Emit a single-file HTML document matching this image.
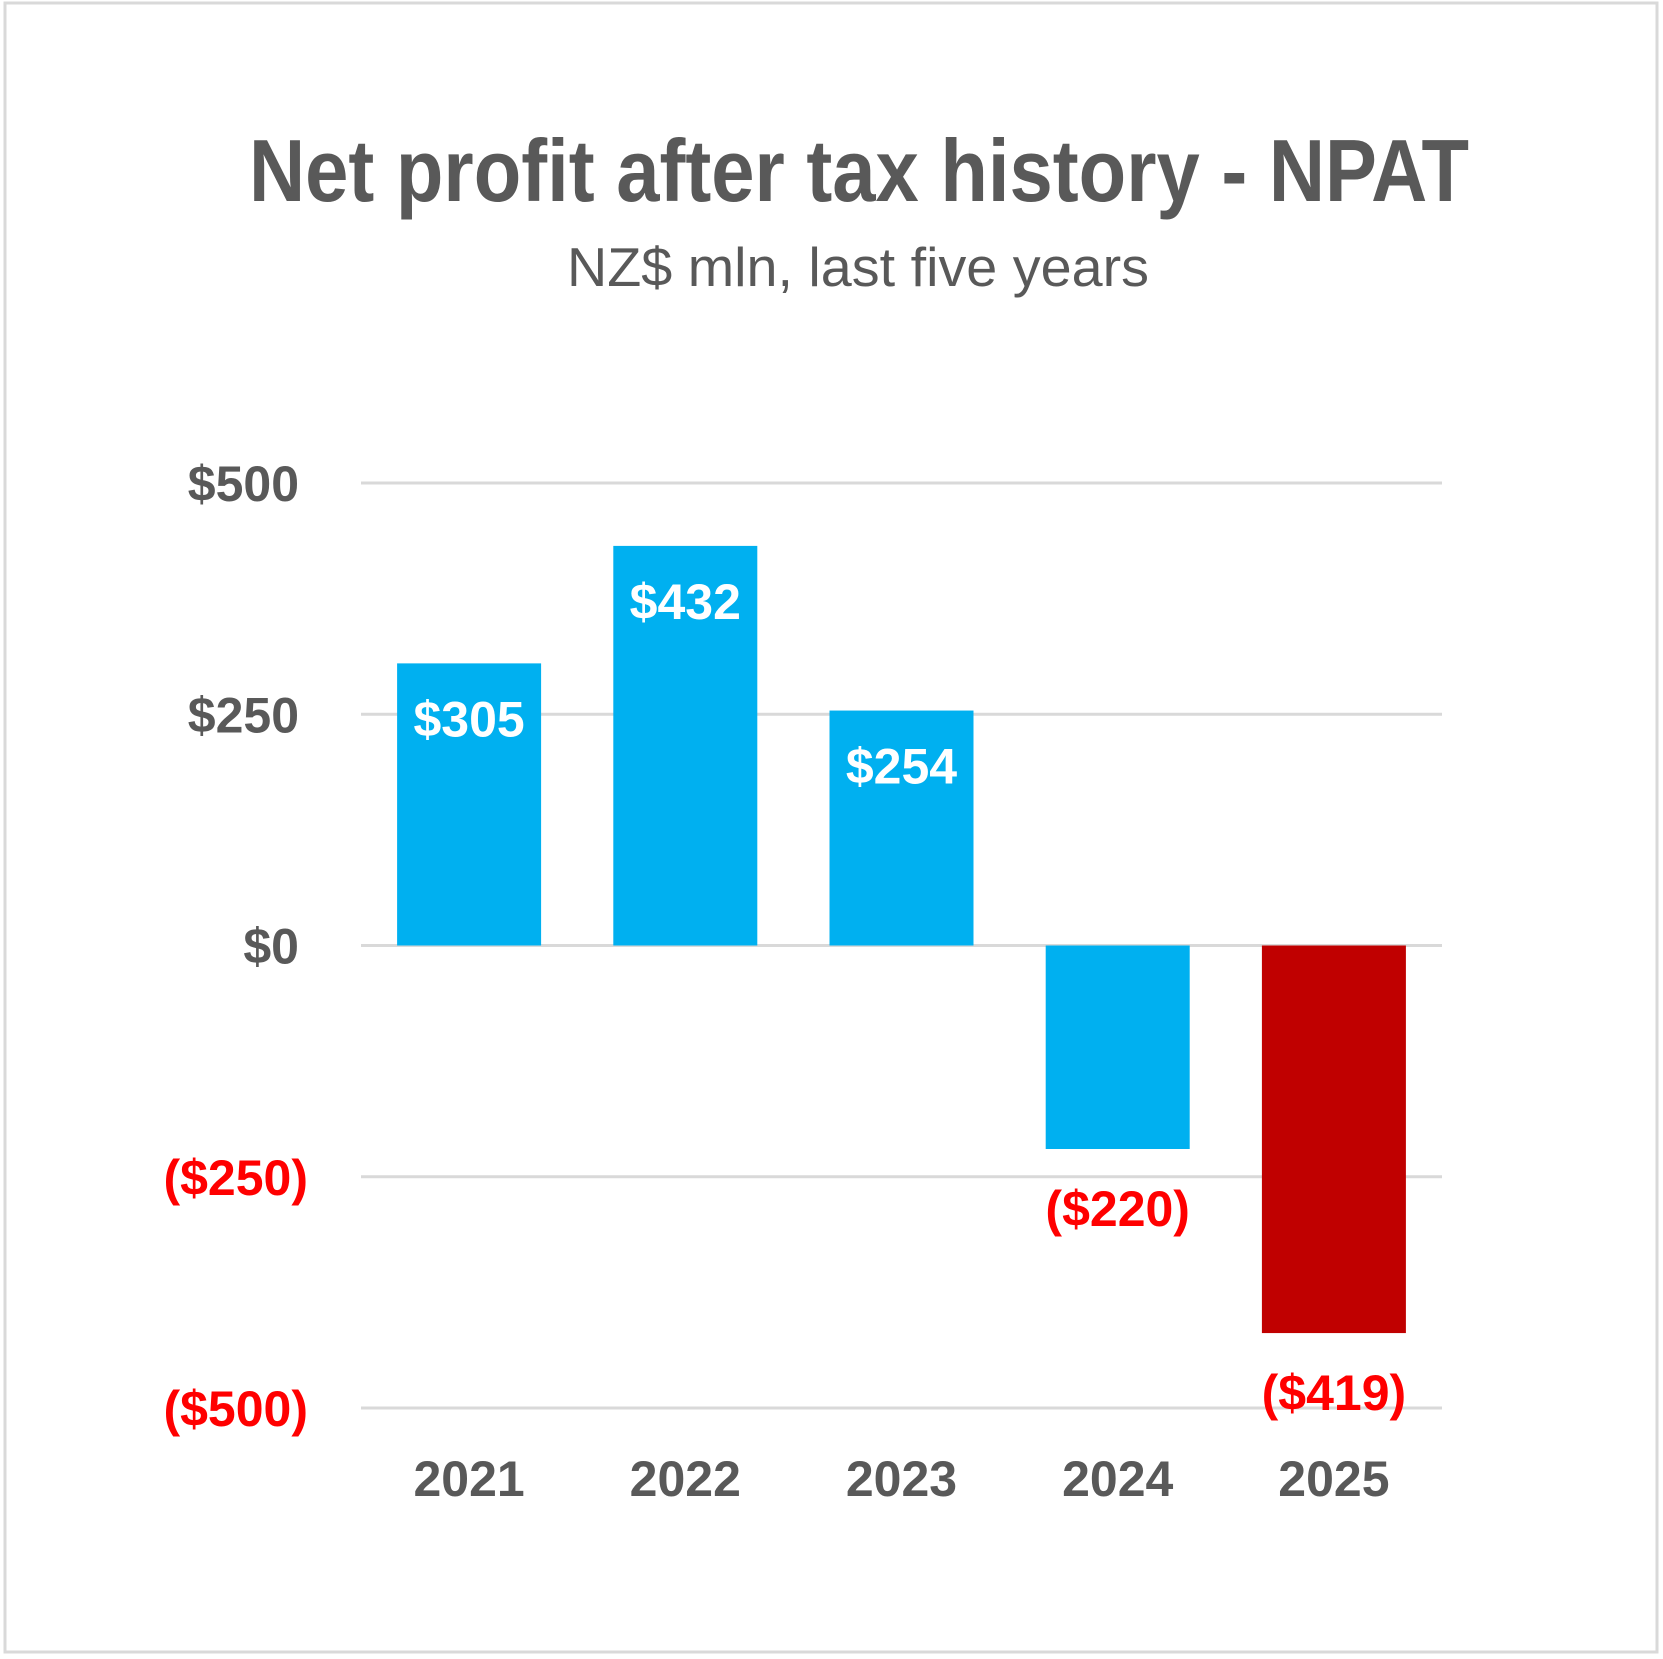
<!DOCTYPE html>
<html><head><meta charset="utf-8"><style>
html,body{margin:0;padding:0;background:#fff}
svg{display:block;font-family:"Liberation Sans",Arial,sans-serif}
</style></head><body>
<svg id="chart" width="1663" height="1659" viewBox="0 0 1663 1659">
<rect x="5" y="3" width="1652" height="1649" fill="#fff" stroke="#d9d9d9" stroke-width="3"/>
<text x="859" y="201" text-anchor="middle" font-size="88" font-weight="bold" fill="#595959" textLength="1220" lengthAdjust="spacingAndGlyphs">Net profit after tax history - NPAT</text>
<text x="858" y="286" text-anchor="middle" font-size="55" fill="#595959" textLength="582" lengthAdjust="spacingAndGlyphs">NZ$ mln, last five years</text>
<g id="grid"></g><g id="bars"></g><g id="labels"></g>
</svg>
<script>
const categories=["2021","2022","2023","2024","2025"];
const values=[305,432,254,-220,-419];
const barColors=["#00b0f0","#00b0f0","#00b0f0","#00b0f0","#c00000"];
const ticks=[500,250,0,-250,-500];
const tickLabels=["$500","$250","$0","($250)","($500)"];
const valueLabels=["$305","$432","$254","($220)","($419)"];

const NS="http://www.w3.org/2000/svg";
const plotL=361,plotR=1442,yTop=483,yBot=1408,vMax=500,vMin=-500;
const y=v=>yTop+(vMax-v)/(vMax-vMin)*(yBot-yTop);
const band=(plotR-plotL)/categories.length;
const xc=i=>plotL+band*(i+0.5);
const bw=144;
function mk(tag,attrs,parent,txt){const e=document.createElementNS(NS,tag);for(const k in attrs)e.setAttribute(k,attrs[k]);if(txt!==undefined)e.textContent=txt;parent.appendChild(e);return e;}
const g=document.getElementById('grid'),gb=document.getElementById('bars'),gl=document.getElementById('labels');
ticks.forEach((t,i)=>{
  const l=mk('line',{x1:plotL,x2:plotR,y1:y(t),y2:y(t),stroke:'#d9d9d9','stroke-width':3},g);
  
  
  const neg=t<0;
  const tx=mk('text',{x:neg?308:299,y:y(t)+18,'text-anchor':'end','font-size':50,'font-weight':'bold',fill:neg?'#ff0000':'#595959'},g,tickLabels[i]);
  
  
});
categories.forEach((c,i)=>{
  const v=values[i];
  const top=Math.min(y(v),y(0)),h=Math.abs(y(v)-y(0));
  const r=mk('rect',{x:xc(i)-bw/2,y:top,width:bw,height:h,fill:barColors[i]},gb);
  
  
  let lt;
  if(v>=0){lt=mk('text',{x:xc(i),y:y(v)+73,'text-anchor':'middle','font-size':50,'font-weight':'bold',fill:'#fff'},gl,valueLabels[i]);}
  else{lt=mk('text',{x:xc(i),y:y(v)+77,'text-anchor':'middle','font-size':50,'font-weight':'bold',fill:'#ff0000'},gl,valueLabels[i]);}
  
  
  const xl=mk('text',{x:xc(i),y:1496,'text-anchor':'middle','font-size':50,'font-weight':'bold',fill:'#595959'},gl,c);
  
  
});
</script>
</body></html>
